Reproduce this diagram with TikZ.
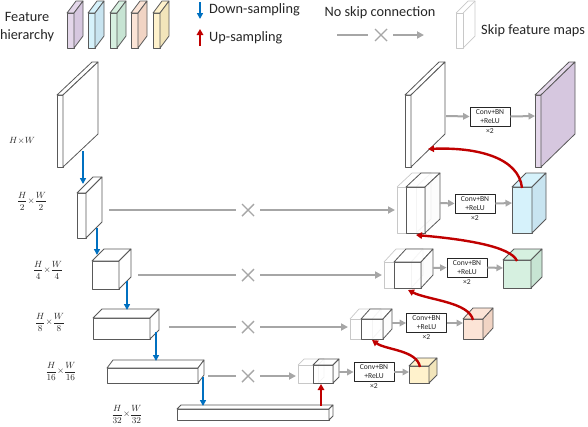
\documentclass[tikz,border=0pt]{standalone}
\usepackage{amsmath}
\usepackage{fontspec}
\setmainfont{Carlito}
\usetikzlibrary{arrows.meta,positioning}
\definecolor{boxline}{HTML}{595959}
\definecolor{ghostc}{HTML}{C8C8C8}
\definecolor{grayar}{HTML}{A6A6A6}
\definecolor{bluear}{HTML}{0070C0}
\definecolor{redar}{HTML}{C00000}
\definecolor{txt}{HTML}{262626}
\definecolor{purf}{HTML}{E4D7EA}\definecolor{purs}{HTML}{D6C7DF}
\definecolor{bluf}{HTML}{D6F2FB}\definecolor{blus}{HTML}{C8E4F0}
\definecolor{gref}{HTML}{D6F0E0}\definecolor{gres}{HTML}{C7E4D3}
\definecolor{oraf}{HTML}{FCE4D6}\definecolor{oras}{HTML}{F1D4C4}
\definecolor{yelf}{HTML}{FFF2CC}\definecolor{yels}{HTML}{F2E5BA}
\definecolor{whis}{HTML}{FBFBFB}
\newcommand\cub[8]{%
  \filldraw[edge, fill=#7] (#1,#2) rectangle ++(#3,#4);
  \filldraw[edge, fill=#7] (#1,#2) -- ++(#5,-#6) -- ++(#3,0) -- ++(-#5,#6) -- cycle;
  \filldraw[edge, fill=#8] ({#1+#3},#2) -- ++(#5,-#6) -- ++(0,#4) -- ++(-#5,#6) -- cycle;}
\newcommand\ghostcub[6]{%
  \draw[ghostline] (#1,#2) rectangle ++(#3,#4);
  \draw[ghostline] (#1,#2) -- ++(#5,-#6) -- ++(#3,0) -- ++(0,#4) -- ++(-#5,#6);
  \draw[ghostline] ({#1+#3},#2) -- ++(#5,-#6);}
\newcommand\xmk[1]{%
  \draw[xmark] ([shift={(-6,-6)}]#1) -- ([shift={(6,6)}]#1)
               ([shift={(-6,6)}]#1) -- ([shift={(6,-6)}]#1);}
\begin{document}
\begin{tikzpicture}[x=1pt,y=-1pt,line join=round,
  edge/.style={draw=boxline,line width=0.8pt},
  ghostline/.style={draw=ghostc,line width=0.7pt},
  skip/.style={draw=grayar,line width=2.2pt,-{Triangle[length=7pt,width=7pt]}},
  skipline/.style={draw=grayar,line width=2.2pt},
  xmark/.style={draw=grayar,line width=1.4pt},
  down/.style={draw=bluear,line width=2pt,-{Triangle[length=6pt,width=6pt]}},
  up/.style={draw=redar,line width=2.4pt,-{Triangle[length=6pt,width=6.5pt]}},
  convbox/.style={draw=txt,line width=0.8pt,fill=white,minimum width=40pt,minimum height=19pt,
    inner sep=0pt,align=center,text=txt,font=\fontsize{7.6}{9}\selectfont},
  times/.style={text=txt,font=\fontsize{7.6}{8}\selectfont,inner sep=0pt},
  legend/.style={text=txt,font=\fontsize{14.3}{18}\selectfont,inner sep=0pt},
  dim/.style={text=txt,font=\fontsize{9.5}{11}\selectfont,inner sep=0pt}]
\useasboundingbox (0,0) rectangle (588,426);

% ---------------- legend ----------------
\node[legend,align=center] (legfh) at (27,27) {Feature\\hierarchy};
\cub{67}{13}{7}{35}{9}{12}{purf}{purs}
\cub{88}{13}{7}{35}{9}{12}{bluf}{blus}
\cub{110}{13}{7}{35}{9}{12}{gref}{gres}
\cub{131}{13}{7}{35}{9}{12}{oraf}{oras}
\cub{153}{13}{7}{35}{9}{12}{yelf}{yels}
\coordinate (ld1) at (200,2); \coordinate (ld2) at (200,19);
\draw[down] (ld1) -- (ld2);
\coordinate (lu1) at (200,46); \coordinate (lu2) at (200,29);
\draw[up] (lu1) -- (lu2);
\node[legend,anchor=west] (legdown) at (209,10) {Down-sampling};
\node[legend,anchor=west] (legup) at (209,38) {Up-sampling};
\node[legend] (legnoskip) at (380,13) {No skip connection};
\coordinate (ln1) at (337,35); \coordinate (ln2) at (368,35);
\coordinate (lnx) at (381,35);
\coordinate (ln3) at (393,35); \coordinate (ln4) at (424,35);
\draw[skipline] (ln1) -- (ln2);
\xmk{lnx}
\draw[skip] (ln3) -- (ln4);
\ghostcub{456}{13}{7}{35}{12}{12}
\node[legend,anchor=west] (legskip) at (481,31) {Skip feature maps};

% ---------------- encoder ----------------
\cub{57}{95}{6}{72}{35}{33}{white}{white}
\cub{77}{193}{9}{45}{16}{16}{white}{white}
\cub{92}{261}{27}{28}{12}{12}{white}{white}
\cub{93}{318}{57}{21}{9}{9}{white}{white}
\cub{107}{368}{91}{15}{6}{8}{white}{white}
\cub{177}{409}{152}{11}{4}{4}{white}{white}

\node[dim] (d1) at (22,141) {$H{\times}W$};
\node[dim] (d2) at (32,201) {$\dfrac{H}{2}{\times}\dfrac{W}{2}$};
\node[dim] (d3) at (48,270) {$\dfrac{H}{4}{\times}\dfrac{W}{4}$};
\node[dim] (d4) at (50,322) {$\dfrac{H}{8}{\times}\dfrac{W}{8}$};
\node[dim] (d5) at (61,371) {$\dfrac{H}{16}{\times}\dfrac{W}{16}$};
\node[dim] (d6) at (127,414) {$\dfrac{H}{32}{\times}\dfrac{W}{32}$};

\coordinate (a1) at (83,151);  \coordinate (b1) at (83,184);
\coordinate (a2) at (97,228);  \coordinate (b2) at (97,255);
\coordinate (a3) at (127,281); \coordinate (b3) at (127,310);
\coordinate (a4) at (156,332); \coordinate (b4) at (156,361);
\coordinate (a5) at (203,377); \coordinate (b5) at (203,406);
\draw[down] (a1) -- (b1);
\draw[down] (a2) -- (b2);
\draw[down] (a3) -- (b3);
\draw[down] (a4) -- (b4);
\draw[down] (a5) -- (b5);

% ---------------- skip rows ----------------
\coordinate (s2a) at (109,210); \coordinate (s2b) at (236,210); \coordinate (s2x) at (248,210);
\coordinate (s2c) at (260,210); \coordinate (s2d) at (395,210);
\coordinate (s3a) at (138,275); \coordinate (s3b) at (236,275); \coordinate (s3x) at (248,275);
\coordinate (s3c) at (260,275); \coordinate (s3d) at (382,275);
\coordinate (s4a) at (169,327); \coordinate (s4b) at (236,327); \coordinate (s4x) at (248,327);
\coordinate (s4c) at (260,327); \coordinate (s4d) at (348,327);
\coordinate (s5a) at (208,376); \coordinate (s5b) at (236,376); \coordinate (s5x) at (248,376);
\coordinate (s5c) at (260,376); \coordinate (s5d) at (296,376);
\foreach \r in {2,3,4,5}{
  \draw[skipline] (s\r a) -- (s\r b);
  \xmk{s\r x}
  \draw[skip] (s\r c) -- (s\r d);
}

% ---------------- decoder ----------------
\cub{405}{95}{6}{72}{34}{33}{white}{white}
\cub{535}{95}{6}{72}{34}{33}{purf}{purs}

\begin{scope}[fill opacity=0.8]
\ghostcub{397}{187}{19}{46}{15}{14}
\cub{406}{187}{19}{46}{15}{14}{white}{whis}
\ghostcub{384}{262}{27}{26}{12}{13}
\cub{394}{262}{27}{26}{12}{13}{white}{whis}
\ghostcub{350}{319}{22}{20}{9}{10}
\cub{361}{319}{22}{20}{9}{10}{white}{whis}
\ghostcub{298}{365}{20}{18}{6}{6}
\cub{313}{365}{20}{18}{6}{6}{white}{whis}
\end{scope}
\cub{512}{187}{20}{46}{14}{14}{bluf}{blus}
\cub{503}{260}{28}{28}{11}{11}{gref}{gres}
\cub{463}{319}{20}{20}{10}{11}{oraf}{oras}
\cub{409}{366}{20}{17}{8}{8}{yelf}{yels}

\node[convbox] (c1) at (490,116.5) {Conv+BN\\+ReLU};
\node[convbox] (c2) at (475,203.5) {Conv+BN\\+ReLU};
\node[convbox] (c3) at (467,267.5) {Conv+BN\\+ReLU};
\node[convbox] (c4) at (426.5,323) {Conv+BN\\+ReLU};
\node[convbox] (c5) at (374,372) {Conv+BN\\+ReLU};
\foreach \i in {1,...,5}{\node[times,below=1.5pt of c\i] (t\i) {×2};}

\coordinate (p1) at (446,116); \coordinate (q1) at (535,116);
\coordinate (p2) at (440,203); \coordinate (q2) at (512,203);
\coordinate (p3) at (433,268); \coordinate (q3) at (503,268);
\coordinate (p4) at (392,323); \coordinate (q4) at (463,323);
\coordinate (p5) at (339,372); \coordinate (q5) at (409,372);
\foreach \i in {1,...,5}{
  \draw[skip,line width=2pt,-{Triangle[length=6.5pt,width=6.5pt]}] (p\i) -- (c\i.west);
  \draw[skip,line width=2pt,-{Triangle[length=6.5pt,width=6.5pt]}] (c\i.east) -- (q\i);
}

% ---------------- up-sampling ----------------
\coordinate (u1a) at (522,188); \coordinate (u1b) at (428,149);
\coordinate (u2a) at (517,261); \coordinate (u2b) at (416,235);
\coordinate (u3a) at (473,320); \coordinate (u3b) at (408,290);
\coordinate (u4a) at (420,367); \coordinate (u4b) at (372,340);
\coordinate (u5a) at (321,406); \coordinate (u5b) at (321,384);
\draw[up] (u1a) .. controls (519,158) and (478,147) .. (u1b);
\draw[up] (u2a) .. controls (511,246) and (462,239) .. (u2b);
\draw[up] (u3a) .. controls (469,302) and (428,300) .. (u3b);
\draw[up] (u4a) .. controls (417,350) and (386,350) .. (u4b);
\draw[up] (u5a) -- (u5b);
\end{tikzpicture}
\end{document}
